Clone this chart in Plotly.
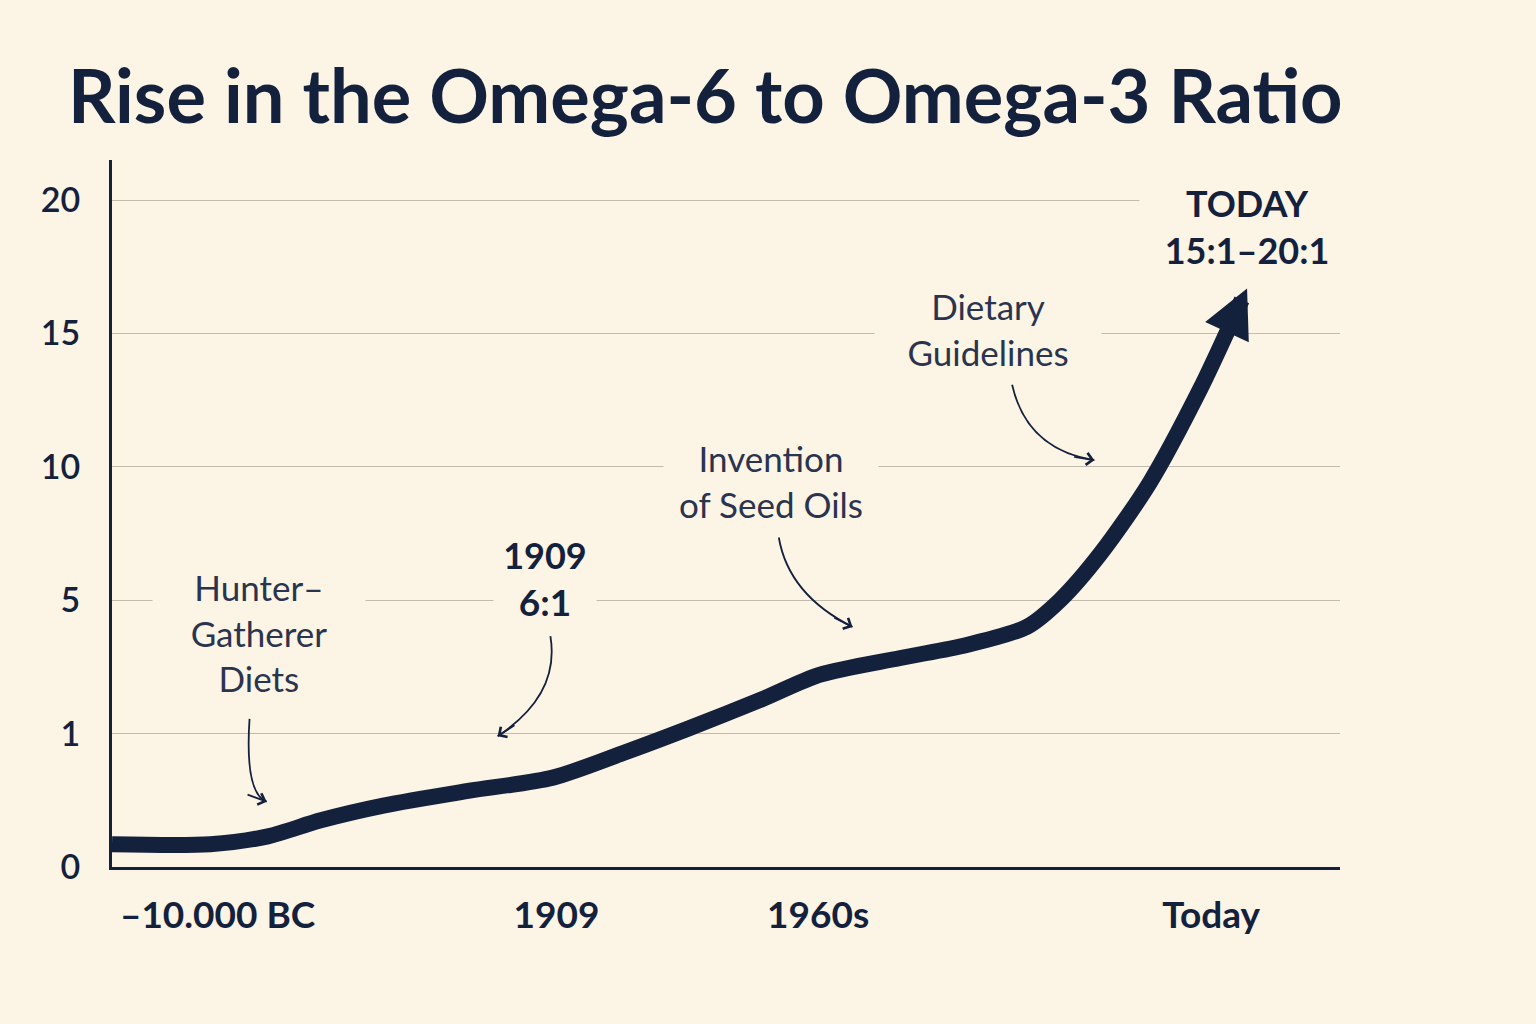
import math
import plotly.graph_objects as go

# timeline positions (0-100 across the axis) and ratio on the stepped scale
x_pos = [0, 8, 12.7, 17, 22.1, 29, 35.9, 41.8, 47, 53, 57.6, 64.2, 69.6, 74.5, 77.2, 80.5, 84.5, 88.6, 91.0, 92.5]
y_pos = [0.17, 0.17, 0.23, 0.35, 0.46, 0.57, 0.67, 0.86, 1.04, 1.26, 1.44, 1.567, 1.664, 1.80, 2.00, 2.35, 2.88, 3.58, 4.05, 4.35]

y_tickvals = [0, 1, 2, 3, 4, 5]
y_ticktext = ["0", "1", "5", "10", "15", "20"]
x_tickvals = [8.6, 36.2, 57.5, 89.5]
x_ticktext = ["\u201310.000 BC", "1909", "1960s", "Today"]

# labels: text, x, y, box width
label_text = ["Hunter\u2013<br>Gatherer<br>Diets",
              "<b>1909</b><br><b><span style='font-size:37px'>6:1</span></b>",
              "Invention<br>of Seed Oils",
              "Dietary<br>Guidelines",
              "<b>TODAY<br>15:1\u201320:1</b>"]
label_x = [12.0, 35.3, 53.7, 71.3, 92.4]
label_y = [1.755, 2.16, 2.89, 4.03, 4.80]
label_w = [210, 100, 212, 224, 212]

# curved pointer arrows: start, control, end
arrow_start = [(11.2, 1.11), (35.7, 1.73), (54.3, 2.47), (73.3, 3.615)]
arrow_ctrl = [(10.8, 0.55), (36.5, 1.29), (55.1, 2.04), (74.5, 3.13)]
arrow_end = [(12.6, 0.49), (31.4, 0.98), (60.3, 1.80), (80.0, 3.05)]

navy = "#14213d"
label_col = "#2a344f"
bg = "#fcf4e4"
font = "Lato"

# pixels per axis unit (plot area 1228 x 707 px)
px_x = 1228 / 100
px_y = 707 / 5.3

fig = go.Figure()
fig.add_trace(go.Scatter(x=x_pos[:-1], y=y_pos[:-1], mode="lines",
                         line=dict(color=navy, width=16, shape="spline", smoothing=0.8),
                         hoverinfo="skip", showlegend=False))

# arrow head at the end of the main curve
fig.add_annotation(x=x_pos[-1], y=y_pos[-1], ax=x_pos[-2], ay=y_pos[-2],
                   xref="x", yref="y", axref="x", ayref="y", text="",
                   showarrow=True, arrowhead=2, arrowwidth=16, arrowsize=0.6,
                   arrowcolor=navy, standoff=2)

for i, t in enumerate(label_text):
    bold = t.startswith("<b>")
    fig.add_annotation(x=label_x[i], y=label_y[i], xref="x", yref="y", text=t,
                       showarrow=False, width=label_w[i], bgcolor=bg,
                       font=dict(family=font, size=36 if bold else 35,
                                 color=navy if bold else label_col))

for s, c, e in zip(arrow_start, arrow_ctrl, arrow_end):
    fig.add_shape(type="path", xref="x", yref="y",
                  path=f"M {s[0]},{s[1]} Q {c[0]},{c[1]} {e[0]},{e[1]}",
                  line=dict(color=navy, width=1.8))
    # short stub along the end tangent so the head points the right way
    dx = (e[0] - c[0]) * px_x
    dy = (e[1] - c[1]) * px_y
    n = math.hypot(dx, dy)
    back = (e[0] - 22 * dx / n / px_x, e[1] - 22 * dy / n / px_y)
    fig.add_annotation(x=e[0], y=e[1], ax=back[0], ay=back[1],
                       xref="x", yref="y", axref="x", ayref="y", text="",
                       showarrow=True, arrowhead=4, arrowwidth=1.8, arrowsize=1.3,
                       arrowcolor=navy, standoff=0)

fig.update_layout(
    width=1536, height=1024,
    paper_bgcolor=bg, plot_bgcolor=bg,
    margin=dict(l=112, r=196, t=160, b=157),
    title=dict(text="<b>Rise in the Omega-6 to Omega-3 Ratio</b>",
               x=68 / 1536, xanchor="left", y=1 - 97 / 1024, yanchor="middle",
               yref="container", font=dict(family=font, size=74, color=navy)),
    xaxis=dict(range=[0, 100], tickvals=x_tickvals, ticktext=x_ticktext,
               showgrid=False, zeroline=False, showline=True, linecolor=navy,
               linewidth=3, ticks="", ticklabelstandoff=14,
               tickfont=dict(family=font, size=37, color=navy, weight="bold")),
    yaxis=dict(range=[0, 5.3], tickvals=y_tickvals, ticktext=y_ticktext,
               showgrid=True, gridcolor="#bfbbae", gridwidth=1.2, zeroline=False,
               showline=True, linecolor=navy, linewidth=3, ticks="",
               ticklabelstandoff=22,
               tickfont=dict(family=font, size=34, color=navy, weight=600)),
)

fig.write_html("out.html", config={"displayModeBar": False},
               post_script="document.body.style.margin='0';"
                           "document.body.style.background='" + bg + "';")
